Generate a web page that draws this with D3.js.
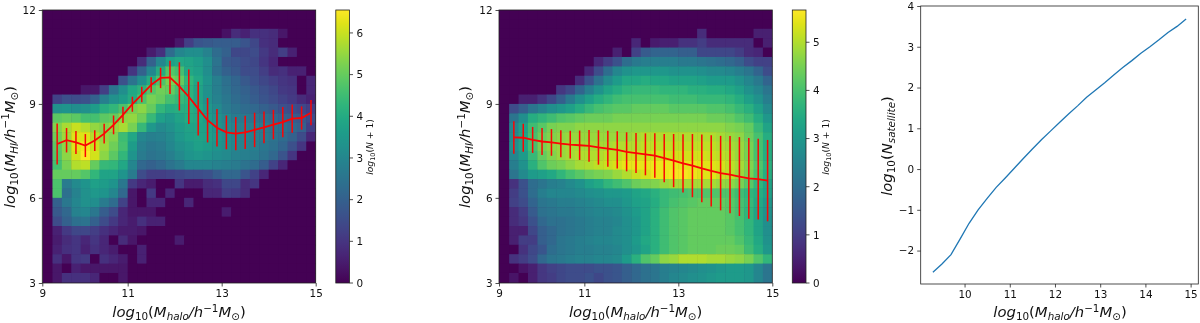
<!DOCTYPE html>
<html>
<head>
<meta charset="utf-8">
<script src="https://d3js.org/d3.v7.min.js"></script>
<style>
  html, body { margin: 0; padding: 0; background: #fff; }
  svg { display: block; filter: blur(0.6px); }
  text { font-family: "DejaVu Sans", sans-serif; fill: #111; }
</style>
</head>
<body>
<svg id="chart" width="1200" height="323"></svg>
<script>
// halo mass of the error bar points, both heatmaps
const bar_halo = [9.5,9.7,9.9,10.1,10.3,10.5,10.7,10.9,11.1,11.3,11.5,11.7,11.9,12.1,12.3,12.5,12.7,12.9,13.1,13.3,13.5,13.7,13.9,14.1,14.3,14.5,14.7,14.9]

const left_mean = [7.72,7.84,7.77,7.67,7.83,8.05,8.33,8.65,8.99,9.30,9.61,9.83,9.85,9.56,9.23,8.85,8.48,8.24,8.09,8.05,8.09,8.17,8.25,8.34,8.42,8.53,8.55,8.72]
const left_err = [.655,.39,.367,.367,.33,.314,.30,.26,.24,.245,.245,.325,.53,.77,.87,.857,.71,.60,.54,.53,.53,.55,.51,.47,.485,.45,.37,.405]

const mid_mean = [7.93,7.92,7.85,7.80,7.77,7.73,7.70,7.68,7.66,7.61,7.57,7.53,7.47,7.43,7.39,7.35,7.27,7.19,7.10,7.03,6.94,6.86,6.79,6.74,6.68,6.62,6.60,6.55]
const mid_err = [.52,.45,.415,.43,.426,.43,.44,.47,.51,.55,.575,.596,.623,.64,.67,.71,.77,.85,.93,1.01,1.08,1.14,1.19,1.235,1.26,1.29,1.29,1.30]

const sat_halo = [9.3,9.5,9.7,9.9,10.1,10.3,10.5,10.7,10.9,11.1,11.3,11.5,11.7,11.9,12.1,12.3,12.5,12.7,12.9,13.1,13.3,13.5,13.7,13.9,14.1,14.3,14.5,14.7,14.9]
const sat_count = [-2.53,-2.33,-2.10,-1.72,-1.33,-1.00,-.72,-.45,-.22,.02,.26,.49,.72,.93,1.14,1.35,1.55,1.76,1.94,2.12,2.31,2.49,2.66,2.84,3.0,3.17,3.35,3.5,3.68]

// log10(N+1) per cell, top row first, columns from log Mhalo = 9.2 in steps of 0.2
const left_grid = [
  [0,0,0,0,0,0,0,0,0,0,0,0,0,0,0,0,0,0,0,0,0,0,0,0,0,0,0,0,0],
  [0,0,0,0,0,0,0,0,0,0,0,0,0,0,0,0,0,0,0,0,0,0,0,0,0,0,0,0,0],
  [0,0,0,0,0,0,0,0,0,0,0,0,0,0,0,0,0,0,0,.3,.8,.6,.9,.9,.8,.4,0,0,0],
  [0,0,0,0,0,0,0,0,0,0,0,0,0,0,.4,1.2,1.7,1.8,1.9,1.9,1.9,1.7,1.4,.9,.8,0,0,0,0],
  [0,0,0,0,0,0,0,0,0,0,0,.5,.9,2.3,3.0,3.2,3.2,2.9,2.3,2.0,1.4,1.4,1.5,1.1,.8,1.2,.6,0,0],
  [0,0,0,0,0,0,0,0,0,0,.8,2.0,3.0,3.7,3.9,3.8,3.6,3.2,2.5,1.8,1.7,1.5,1.4,1.0,.7,0,0,0,0],
  [0,0,0,0,0,0,0,0,0,1.0,2.0,3.0,4.0,4.8,4.6,3.9,3.7,3.2,2.4,2.0,1.8,1.5,1.5,1.2,.8,.9,.6,.6,0],
  [0,0,0,0,0,0,0,0,1.6,2.5,3.2,4.0,4.7,5.2,5.0,4.3,3.9,3.4,2.8,2.4,2.1,1.8,1.6,1.4,1.2,1.0,.9,0,.7],
  [0,0,0,0,.4,.4,1.2,2.5,3.2,3.9,4.2,4.8,5.1,5.0,4.6,4.2,3.8,3.3,2.8,2.5,2.2,2.0,1.8,1.6,1.4,1.1,1.0,0,.7],
  [0,1.3,1.6,1.5,1.6,2.0,2.8,3.3,3.6,4.0,4.7,5.2,5.0,4.6,4.4,4.2,3.8,3.3,2.9,2.6,2.3,2.1,1.9,1.7,1.5,1.3,1.1,.8,.6],
  [0,3.3,3.4,3.2,3.3,3.6,4.1,4.3,4.7,5.2,5.4,5.0,4.3,4.0,4.1,4.1,3.9,3.5,3.1,2.7,2.5,2.3,2.2,2.0,1.8,1.6,1.5,1.4,1.2],
  [0,4.9,5.0,4.9,4.6,4.6,4.9,5.0,5.4,5.5,5.1,4.4,3.7,3.5,3.8,4.0,3.9,3.6,3.3,3.0,2.7,2.6,2.5,2.4,2.2,2.0,1.9,1.8,1.5],
  [0,5.3,5.7,6.0,5.8,5.5,5.3,5.5,5.7,5.2,4.4,3.5,3.1,3.3,3.6,3.8,3.8,3.7,3.4,3.1,2.9,2.8,2.8,2.7,2.5,2.4,2.2,2.0,1.2],
  [0,5.1,5.6,6.2,6.2,5.8,5.5,5.3,4.5,3.9,3.0,2.8,2.9,3.1,3.5,3.7,3.8,3.7,3.5,3.2,3.0,2.9,2.8,2.7,2.5,2.3,2.0,1.5,.7],
  [0,4.9,5.4,6.2,6.4,6.0,5.6,5.1,4.6,3.6,2.8,2.6,2.7,3.0,3.3,3.5,3.7,3.6,3.4,3.2,3.0,2.9,2.8,2.6,2.4,2.1,1.6,1.0,0],
  [0,4.8,5.4,6.1,6.5,6.1,5.4,4.9,4.3,3.4,2.7,2.5,2.6,2.8,3.1,3.4,3.5,3.4,3.2,3.1,2.9,2.8,2.7,2.5,2.2,1.7,1.0,0,0],
  [0,4.6,5.2,5.8,5.9,5.0,4.4,4.3,3.9,3.0,2.2,2.0,2.2,2.5,2.7,3.0,3.0,3.0,2.9,2.8,2.7,2.5,2.3,1.9,1.3,.7,0,0,0],
  [0,5.0,5.0,5.0,4.8,4.3,3.8,3.8,3.4,2.7,1.5,1.2,1.2,1.3,1.4,1.5,1.5,1.6,1.9,2.2,2.2,1.7,1.3,.7,0,0,0,0,0],
  [0,4.7,2.7,3.1,3.4,3.7,3.6,3.4,2.6,1.1,.7,.5,0,0,1.0,.5,.5,.8,.9,1.4,1.4,.8,1.0,0,0,0,0,0,0],
  [0,4.7,2.4,2.9,3.3,3.5,3.4,3.0,2.2,.4,0,1.1,0,.7,0,0,0,.7,.7,1.2,1.1,.8,0,0,0,0,0,0,0],
  [0,2.0,2.6,3.0,3.3,3.2,2.7,2.3,1.3,.4,0,.7,.7,0,0,.7,0,0,0,0,0,0,0,0,0,0,0,0,0],
  [0,1.8,2.2,2.9,3.0,2.6,1.9,1.5,.7,.4,.4,.4,0,0,0,0,0,0,0,.5,0,0,0,0,0,0,0,0,0],
  [0,1.5,2.0,2.4,2.5,2.0,1.5,1.1,.7,.5,.9,.6,.6,0,0,0,0,0,0,0,0,0,0,0,0,0,0,0,0],
  [0,.6,1.1,1.4,1.4,1.2,.9,.7,.5,.5,.4,0,0,0,0,0,0,0,0,0,0,0,0,0,0,0,0,0,0],
  [0,.5,.8,1.0,.7,1.0,.7,0,.8,.4,0,0,0,0,.5,0,0,0,0,0,0,0,0,0,0,0,0,0,0],
  [0,.6,.9,1.0,.6,.9,.7,.5,0,0,.6,0,0,0,0,0,0,0,0,0,0,0,0,0,0,0,0,0,0],
  [0,.9,.4,1.0,1.1,0,.9,.7,.5,0,.6,0,0,0,0,0,0,0,0,0,0,0,0,0,0,0,0,0,0],
  [0,.4,0,.6,.4,.4,.4,.4,.4,0,0,0,0,0,0,0,0,0,0,0,0,0,0,0,0,0,0,0,0],
  [0,.4,.9,.9,.9,.7,0,0,.4,0,0,0,0,0,0,0,0,0,0,0,0,0,0,0,0,0,0,0,0]
]

const mid_grid = [
  [0,0,0,0,0,0,0,0,0,0,0,0,0,0,0,0,0,0,0,0,0,0,0,0,0,0,0,0,0],
  [0,0,0,0,0,0,0,0,0,0,0,0,0,0,0,0,0,0,0,0,0,0,0,0,0,0,0,0,0],
  [0,0,0,0,0,0,0,0,0,0,0,0,0,0,0,0,0,0,0,0,0,.7,0,0,0,0,0,.5,.5],
  [0,0,0,0,0,0,0,0,0,0,0,0,0,0,.6,0,.4,.5,.5,.8,.8,1.0,.7,.7,.7,.7,.7,0,.5],
  [0,0,0,0,0,0,0,0,0,0,0,0,.5,0,1.1,1.6,1.8,1.8,1.8,1.7,1.7,1.2,1.2,1.2,1.2,1.0,.7,.6,0],
  [0,0,0,0,0,0,0,0,0,0,.6,1.0,1.4,2.0,2.3,2.4,2.4,2.4,2.4,2.3,2.3,2.2,2.1,2.0,1.9,1.7,1.3,1.1,1.1],
  [0,0,0,0,0,0,0,0,0,.6,1.3,2.0,2.6,2.9,3.0,3.0,3.0,3.0,2.9,2.9,2.9,2.8,2.7,2.7,2.6,2.4,2.2,1.8,1.3],
  [0,0,0,0,0,0,0,0,.7,1.4,2.1,2.7,3.1,3.4,3.4,3.5,3.4,3.4,3.3,3.3,3.3,3.2,3.1,3.1,3.1,2.9,2.6,2.3,1.8],
  [0,0,0,0,0,0,.9,1.2,1.8,2.4,2.9,3.3,3.5,3.7,3.8,3.8,3.8,3.7,3.7,3.7,3.6,3.6,3.5,3.5,3.4,3.2,2.9,2.6,2.2],
  [0,0,.5,.5,.8,1.2,1.7,2.3,2.8,3.2,3.5,3.7,3.9,4.0,4.0,4.0,4.0,4.0,3.9,3.9,3.9,3.8,3.8,3.8,3.7,3.5,3.2,2.9,2.4],
  [0,1.3,1.7,2.2,2.5,2.8,3.0,3.2,3.5,3.8,4.0,4.1,4.2,4.2,4.3,4.3,4.3,4.3,4.2,4.2,4.2,4.2,4.1,4.1,4.0,3.8,3.6,3.2,2.7],
  [0,2.2,2.8,3.5,3.7,3.9,4.1,4.2,4.3,4.4,4.4,4.4,4.5,4.5,4.5,4.5,4.5,4.5,4.5,4.5,4.5,4.5,4.4,4.4,4.3,4.1,3.9,3.5,3.0],
  [0,2.6,3.2,3.9,4.2,4.5,4.6,4.6,4.7,4.7,4.7,4.7,4.7,4.7,4.7,4.7,4.7,4.7,4.7,4.7,4.7,4.7,4.7,4.7,4.6,4.5,4.3,3.8,3.3],
  [0,2.7,3.3,4.0,4.4,4.6,4.7,4.8,4.8,4.8,4.8,4.8,4.8,4.8,4.9,5.0,5.0,5.0,5.0,5.0,5.0,5.0,5.0,4.9,4.8,4.7,4.4,4.0,3.5],
  [0,2.8,3.3,4.0,4.5,4.7,4.8,4.9,4.9,4.9,4.9,4.9,5.0,5.0,5.0,5.1,5.1,5.1,5.1,5.1,5.1,5.1,5.1,5.0,4.9,4.8,4.5,4.0,3.5],
  [0,2.6,3.1,3.8,4.3,4.6,4.8,4.9,5.0,5.0,5.0,5.1,5.1,5.25,5.25,5.25,5.25,5.25,5.25,5.25,5.25,5.25,5.2,5.1,5.0,4.8,4.5,4.0,3.5],
  [0,2.4,2.9,3.6,4.1,4.4,4.5,4.7,4.9,5.0,5.1,5.2,5.3,5.45,5.45,5.45,5.5,5.5,5.5,5.45,5.45,5.4,5.4,5.3,5.1,4.9,4.6,4.1,3.6],
  [0,2.2,2.7,3.1,3.2,3.4,3.7,4.0,4.2,4.4,4.5,4.6,4.8,5.0,5.2,5.3,5.5,5.5,5.6,5.6,5.5,5.4,5.4,5.2,5.1,4.8,4.5,4.0,3.5],
  [0,.8,1.4,2.0,2.2,2.4,2.5,2.7,2.9,3.2,3.4,3.7,3.9,4.1,4.4,4.5,4.6,4.8,4.9,4.9,4.9,4.9,4.9,4.8,4.7,4.5,4.2,3.7,3.3],
  [0,1.0,1.4,2.0,2.4,2.6,2.6,2.6,2.7,2.8,2.9,3.0,3.0,3.1,3.3,3.4,3.6,3.8,3.9,4.0,4.1,4.1,4.1,4.1,4.1,3.9,3.7,3.5,3.2],
  [0,1.1,1.3,1.8,2.2,2.3,2.4,2.4,2.5,2.6,2.7,2.8,2.8,3.0,3.2,3.3,3.5,3.8,4.0,4.1,4.2,4.3,4.3,4.3,4.2,4.0,3.8,3.4,3.0],
  [0,.7,1.0,1.6,2.1,2.2,2.3,2.3,2.4,2.5,2.6,2.6,2.7,2.9,3.1,3.3,3.6,3.9,4.1,4.2,4.3,4.3,4.3,4.3,4.2,4.0,3.7,3.3,2.9],
  [0,.7,.9,1.4,1.9,2.1,2.1,2.2,2.3,2.4,2.5,2.5,2.6,2.8,3.0,3.3,3.6,3.9,4.1,4.2,4.3,4.3,4.3,4.3,4.2,4.0,3.7,3.3,2.8],
  [0,.5,.5,1.2,1.7,1.9,2.1,2.2,2.3,2.4,2.5,2.5,2.7,2.8,3.0,3.3,3.6,3.9,4.1,4.2,4.3,4.3,4.3,4.3,4.2,4.0,3.7,3.3,2.8],
  [0,.5,1.0,1.0,1.7,1.9,2.2,2.3,2.4,2.5,2.6,2.6,2.7,2.8,3.1,3.4,3.6,3.9,4.1,4.2,4.3,4.3,4.3,4.3,4.3,4.1,3.8,3.4,2.9],
  [0,0,.8,1.2,1.5,2.0,2.2,2.3,2.4,2.4,2.5,2.5,2.6,2.8,3.0,3.3,3.6,3.9,4.1,4.2,4.3,4.3,4.3,4.4,4.4,4.3,3.9,3.5,3.0],
  [0,.8,1.0,1.3,1.9,2.2,2.3,2.4,2.5,2.5,2.6,2.6,2.7,3.1,3.6,4.1,4.3,4.7,4.8,5.0,5.0,5.0,4.9,4.9,4.8,4.7,4.5,4.1,3.7],
  [0,0,.3,.5,.9,1.1,1.2,1.3,1.3,1.3,1.4,1.4,1.5,1.7,1.9,2.1,2.2,2.4,2.5,2.6,2.7,2.8,2.9,3.0,3.1,3.1,3.0,2.6,2.2],
  [0,.3,0,.5,.9,1.0,1.2,1.3,1.3,1.4,1.2,1.4,1.5,1.7,1.9,2.1,2.2,2.4,2.6,2.7,2.8,2.9,3.0,3.1,3.1,3.1,3.0,2.6,2.2]
]

const heat_x_ticks = [9.184, 11, 13, 15]
const heat_y_ticks = [3.28, 6, 9, 12]
const left_cbar_ticks = [0,1,2,3,4,5,6]
const mid_cbar_ticks = [0,1,2,3,4,5]
const sat_x_ticks = [10,11,12,13,14,15]
const sat_y_ticks = [-2,-1,0,1,2,3,4]

const halo_label = [["log","i"],["10","s"],["(","r"],["M","i"],["halo","si"],["/h","i"],["−1","u"],["M","i"],["⊙","s"],[")","r"]]
const hi_label = [["log","i"],["10","s"],["(","r"],["M","i"],["HI","si"],["/h","i"],["−1","u"],["M","i"],["⊙","s"],[")","r"]]
const sat_label = [["log","i"],["10","s"],["(","r"],["N","i"],["satellite","si"],[")","r"]]
const cbar_label = [["log","i"],["10","s"],["(","r"],["N","i"],[" + 1)","r"]]

const svg = d3.select("#chart")

render_heat_panel({left: 42.3, right: 315.7, cbar_left: 335.8, grid: left_grid, mean: left_mean, err: left_err, vmax: 6.55, cbar_ticks: left_cbar_ticks, id: "a", y_label_x: 14.5, cbar_label_x: 373})
render_heat_panel({left: 499, right: 772.3, cbar_left: 792.3, grid: mid_grid, mean: mid_mean, err: mid_err, vmax: 5.67, cbar_ticks: mid_cbar_ticks, id: "b", y_label_x: 470, cbar_label_x: 829})
render_satellite_panel()

function render_heat_panel(p){
  let top = 10, bottom = 283
  let x = d3.scaleLinear().domain([9.184, 15]).range([p.left, p.right])
  let y = d3.scaleLinear().domain([3.28, 12]).range([bottom, top])
  let color = v => d3.interpolateViridis(v / p.vmax)

  let g = svg.append("g")
  svg.append("clipPath").attr("id", "clip_" + p.id).append("rect")
    .attr("x", p.left).attr("y", top).attr("width", p.right - p.left).attr("height", bottom - top)

  let cells = g.append("g").attr("clip-path", `url(#clip_${p.id})`)
  cells.append("rect").attr("x", p.left).attr("y", top).attr("width", p.right - p.left).attr("height", bottom - top).attr("fill", color(0))
  p.grid.forEach((row, j) => {
    cells.selectAll(null).data(row).join("rect")
      .attr("x", (d, i) => x(9.2 + 0.2 * i))
      .attr("y", y(12 - 0.3 * j))
      .attr("width", x(9.4) - x(9.2) + 0.5)
      .attr("height", y(0) - y(0.3) + 0.5)
      .attr("fill", d => color(d))
  })

  // error bars, then the mean line on top
  g.selectAll(null).data(bar_halo).join("line")
    .attr("x1", d => x(d)).attr("x2", d => x(d))
    .attr("y1", (d, i) => y(p.mean[i] - p.err[i]))
    .attr("y2", (d, i) => y(p.mean[i] + p.err[i]))
    .attr("stroke", "#fa0505").attr("stroke-width", 1.5)
  let line = d3.line().x(d => x(d)).y((d, i) => y(p.mean[i]))
  g.append("path").attr("d", line(bar_halo)).attr("fill", "none").attr("stroke", "#fa0505").attr("stroke-width", 1.8)

  render_axes(g, x, y, top, bottom, p.left, p.right, heat_x_ticks, heat_y_ticks)
  render_math(g, halo_label, (p.left + p.right) / 2, 317, 0, 14.8)
  render_math(g, hi_label, p.y_label_x, 147, -90, 14.8)

  // colorbar
  let cw = 13.7
  let cy = d3.scaleLinear().domain([0, p.vmax]).range([bottom, top])
  let grad = svg.append("linearGradient").attr("id", "grad_" + p.id).attr("x1", 0).attr("x2", 0).attr("y1", 1).attr("y2", 0)
  d3.range(0, 1.001, 0.05).forEach(t => {
    grad.append("stop").attr("offset", t).attr("stop-color", d3.interpolateViridis(t))
  })
  g.append("rect").attr("x", p.cbar_left).attr("y", top).attr("width", cw).attr("height", bottom - top).attr("fill", `url(#grad_${p.id})`).attr("stroke", "#222").attr("stroke-width", 0.8)
  g.selectAll(null).data(p.cbar_ticks).join("line")
    .attr("x1", p.cbar_left + cw).attr("x2", p.cbar_left + cw + 3.5)
    .attr("y1", d => cy(d)).attr("y2", d => cy(d))
    .attr("stroke", "#222").attr("stroke-width", 0.8)
  g.selectAll(null).data(p.cbar_ticks).join("text")
    .attr("x", p.cbar_left + cw + 7).attr("y", d => cy(d) + 3.8)
    .attr("font-size", 10.4).text(d => d)
  render_math(g, cbar_label, p.cbar_label_x, 147, -90, 9.2)
}

function render_satellite_panel(){
  let left = 920.7, right = 1198.3, top = 6, bottom = 284
  let x = d3.scaleLinear().domain([9.03, 15.17]).range([left, right])
  let y = d3.scaleLinear().domain([-2.82, 4]).range([bottom, top])
  let g = svg.append("g")
  let line = d3.line().x(d => x(d)).y((d, i) => y(sat_count[i]))
  g.append("path").attr("d", line(sat_halo)).attr("fill", "none").attr("stroke", "#1f77b4").attr("stroke-width", 1.3)
  render_axes(g, x, y, top, bottom, left, right, sat_x_ticks, sat_y_ticks)
  render_math(g, halo_label, 1060, 317, 0, 14.8)
  render_math(g, sat_label, 891.5, 146, -90, 14.8)
}

function render_axes(g, x, y, top, bottom, left, right, x_ticks, y_ticks){
  let fmt = d => Math.round(d) < 0 ? "−" + Math.abs(Math.round(d)) : Math.round(d)
  let ax = g.append("g").attr("transform", `translate(0,${bottom})`)
    .call(d3.axisBottom(x).tickValues(x_ticks).tickFormat(fmt).tickSize(3.5).tickPadding(3))
  let ay = g.append("g").attr("transform", `translate(${left},0)`)
    .call(d3.axisLeft(y).tickValues(y_ticks).tickFormat(fmt).tickSize(3.5).tickPadding(3))
  for (let a of [ax, ay]) {
    a.select(".domain").remove()
    a.selectAll("line").attr("stroke", "#222").attr("stroke-width", 0.8)
    a.selectAll("text").attr("font-size", 10.4).attr("font-family", null)
  }
  g.append("rect").attr("x", left).attr("y", top).attr("width", right - left).attr("height", bottom - top)
    .attr("fill", "none").attr("stroke", "#222").attr("stroke-width", 0.8)
}

// mathtext style label: i italic, r roman, s subscript, si italic subscript, u superscript
function render_math(g, parts, cx, cy, angle, size){
  let t = g.append("text")
    .attr("transform", `translate(${cx},${cy}) rotate(${angle})`)
    .attr("text-anchor", "middle")
    .attr("font-size", size)
  let shift = 0
  parts.forEach(([s, kind]) => {
    let small = kind == "s" || kind == "si" || kind == "u"
    let target = kind == "s" || kind == "si" ? size * 0.22 : kind == "u" ? -size * 0.36 : 0
    t.append("tspan")
      .attr("dy", target - shift)
      .attr("font-size", small ? size * 0.7 : size)
      .attr("font-style", kind == "i" || kind == "si" ? "italic" : "normal")
      .text(s)
    shift = target
  })
}
</script>
</body>
</html>
